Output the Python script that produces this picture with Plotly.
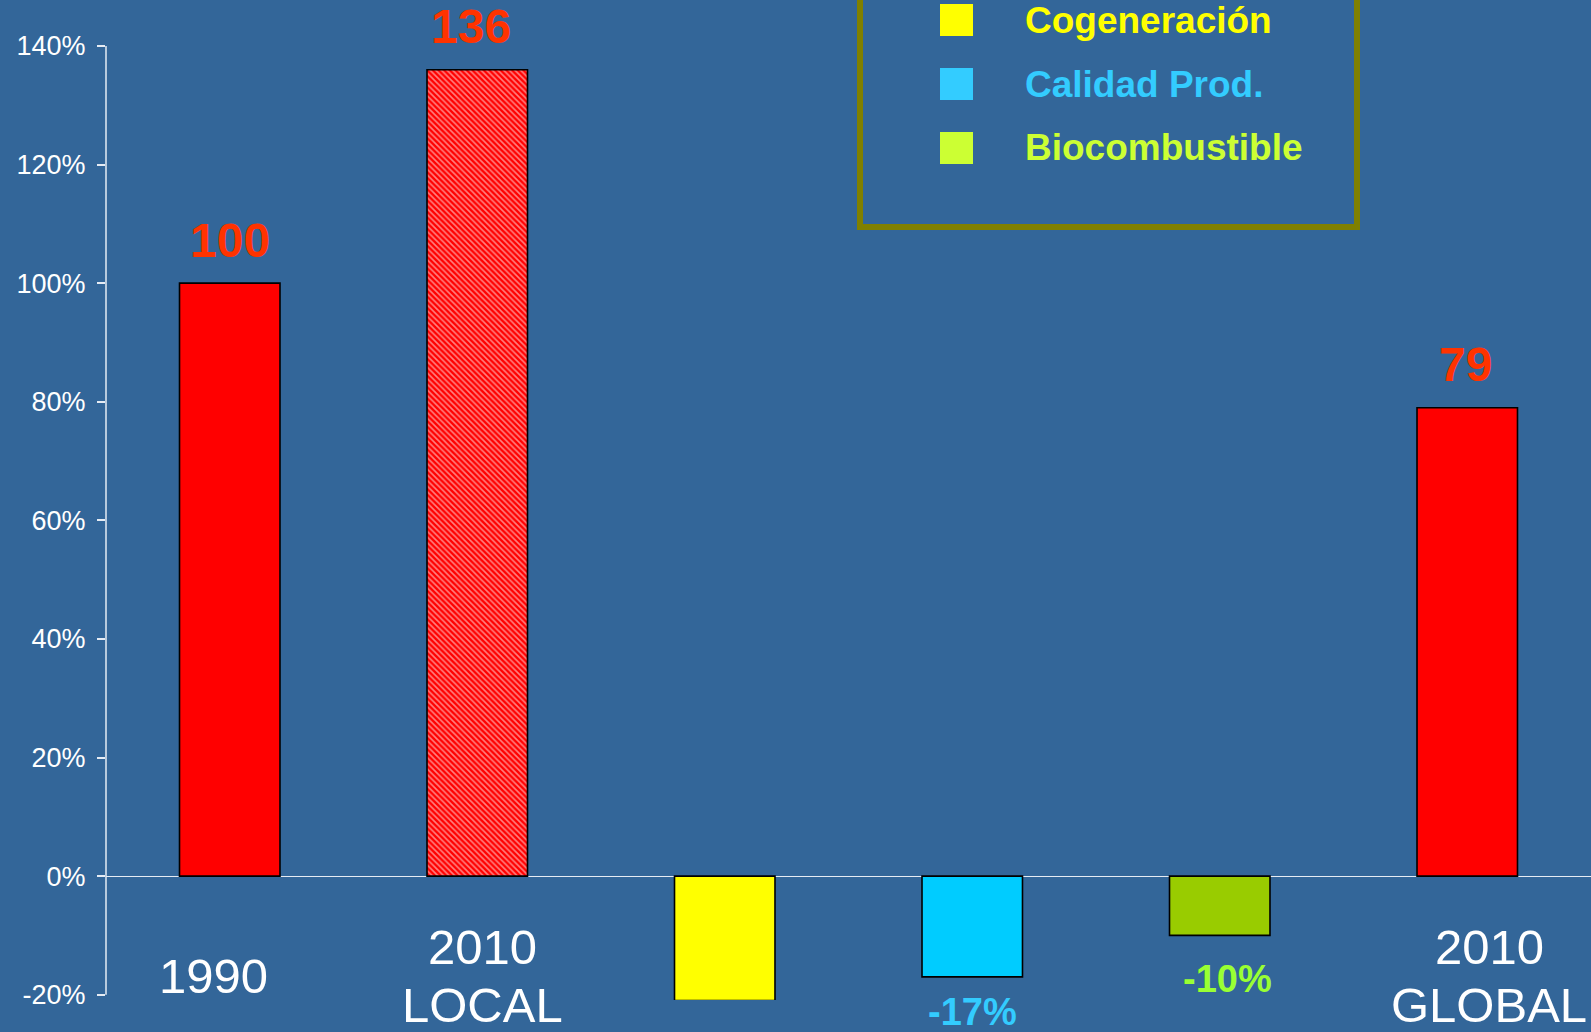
import plotly.graph_objects as go

# Datos del gráfico
categorias = ["1990", "2010 LOCAL", "Cogeneración", "Calidad Prod.", "Biocombustible", "2010 GLOBAL"]
valores = [100, 136, -21, -17, -10, 79]
colores_barra = ["#FF0000", "#FF0000", "#FFFF00", "#00CCFF", "#99CC00", "#FF0000"]
etiquetas_eje = [["1990"], ["2010", "LOCAL"], [], [], [], ["2010", "GLOBAL"]]
etiquetas_valor = ["100", "136", "", "-17%", "-10%", "79"]
colores_valor = ["#FF3300", "#FF3300", "#FFFF00", "#33CCFF", "#99FF33", "#FF3300"]

tick_vals = [-20, 0, 20, 40, 60, 80, 100, 120, 140]
tick_text = ["-20%", "0%", "20%", "40%", "60%", "80%", "100%", "120%", "140%"]

leyenda_texto = ["Cogeneración", "Calidad Prod.", "Biocombustible"]
leyenda_color = ["#FFFF00", "#33CCFF", "#CCFF33"]

FONDO = "#336699"
FUENTE = "Liberation Sans, Arial, sans-serif"
W, H = 1591, 1032
M_L, M_R, M_T, M_B = 106, 0, 46, 32
PW, PH = W - M_L - M_R, H - M_T - M_B


def px_x(px):
    return (px - M_L) / PW


def px_y(py):
    return (H - M_B - py) / PH


fig = go.Figure()

# patrón rayado sólo para la barra "2010 LOCAL"
patrones = ["" if c != "2010 LOCAL" else "\\" for c in categorias]
fig.add_trace(go.Bar(
    x=categorias, y=valores,
    marker=dict(
        color=colores_barra,
        line=dict(color="black", width=1.6),
        pattern=dict(shape=patrones, fgcolor="#FF0000", bgcolor="white",
                     size=4, solidity=0.4, fillmode="overlay"),
    ),
    showlegend=False, hoverinfo="skip",
))

anotaciones = []
ajuste_x = {1: -6, 4: 8, 5: -2}
for i, (val, txt, col) in enumerate(zip(valores, etiquetas_valor, colores_valor)):
    if not txt:
        continue
    if val > 0:
        anotaciones.append(dict(x=i, y=val, text=txt, showarrow=False, yanchor="middle", yshift=43,
                                xshift=ajuste_x.get(i, 0),
                                font=dict(family=FUENTE, size=48, color=col, weight="bold")))
    else:
        off = -35 if val < -12 else -44
        anotaciones.append(dict(x=i, y=val, text=txt, showarrow=False, yanchor="middle", yshift=off,
                                xshift=ajuste_x.get(i, 0),
                                font=dict(family=FUENTE, size=38, color=col, weight="bold")))

# rótulos de categoría bajo el eje (una anotación por línea)
desplaz = {0: -16, 1: 5, 5: 22}
for i, lineas in enumerate(etiquetas_eje):
    ys = [976] if len(lineas) == 1 else [947, 1005]
    for txt, yp in zip(lineas, ys):
        anotaciones.append(dict(x=i, y=px_y(yp), yref="paper", text=txt, showarrow=False,
                                yanchor="middle", xshift=desplaz.get(i, 0),
                                font=dict(family=FUENTE, size=49, color="white")))

# leyenda manual (recuadro recortado por arriba)
formas = [dict(type="rect", xref="paper", yref="paper",
               x0=px_x(860), x1=px_x(1357), y0=px_y(227), y1=px_y(-20),
               line=dict(color="#808000", width=6), fillcolor="rgba(0,0,0,0)", layer="above")]
for i, (txt, col) in enumerate(zip(leyenda_texto, leyenda_color)):
    cy = 20 + 64 * i
    formas.append(dict(type="rect", xref="paper", yref="paper",
                       x0=px_x(940), x1=px_x(973), y0=px_y(cy + 16), y1=px_y(cy - 16),
                       line=dict(width=0), fillcolor=col))
    anotaciones.append(dict(x=px_x(1023), y=px_y(cy), xref="paper", yref="paper", text=txt,
                            showarrow=False, xanchor="left", yanchor="middle",
                            font=dict(family=FUENTE, size=37, color=col, weight="bold")))

# eje vertical sólo entre -20% y 140%
formas.append(dict(type="line", xref="paper", yref="y", x0=0, x1=0, y0=-20, y1=140,
                   line=dict(color="#E6ECF4", width=1.5)))

fig.update_layout(
    width=W, height=H,
    margin=dict(l=M_L, r=M_R, t=M_T, b=M_B),
    paper_bgcolor=FONDO, plot_bgcolor=FONDO,
    bargap=0.594,
    xaxis=dict(type="category", showticklabels=False, showgrid=False, zeroline=False,
               showline=False, ticks="", range=[-0.5, 5.5]),
    yaxis=dict(range=[-20.9, 140], tickvals=tick_vals, ticktext=tick_text,
               ticks="outside", ticklen=8, tickcolor="#E6ECF4", tickwidth=1.5,
               showgrid=False, showline=False,
               zeroline=True, zerolinecolor="#E6ECF4", zerolinewidth=1.2,
               tickfont=dict(family=FUENTE, size=27, color="white"),
               ticklabelstandoff=6),
    annotations=anotaciones,
    shapes=formas,
)

fig.write_html("out.html", config={"displayModeBar": False},
               post_script="document.body.style.margin='0';document.body.style.background='" + FONDO + "';")
